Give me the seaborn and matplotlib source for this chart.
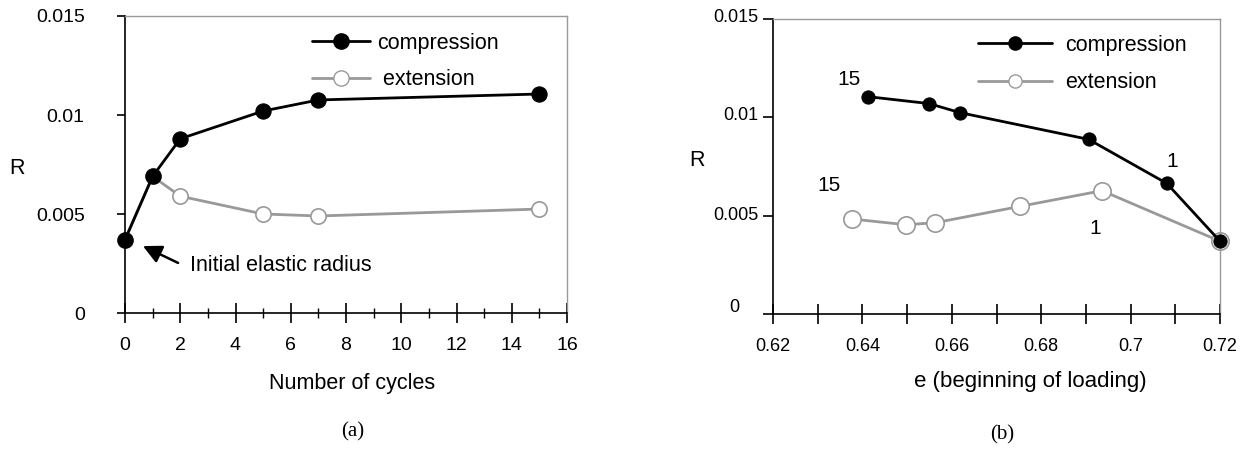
import matplotlib
matplotlib.use("Agg")
import matplotlib.pyplot as plt
import matplotlib.transforms as mtransforms
import seaborn as sns
import pandas as pd
from matplotlib.ticker import MultipleLocator, FixedLocator
from matplotlib.lines import Line2D

sns.set_style("white")
plt.rcParams['font.family'] = ['Liberation Sans', 'DejaVu Sans']
plt.rcParams.update({"text.color": "black", "axes.labelcolor": "black",
                     "xtick.color": "black", "ytick.color": "black"})

# Panel (a)
cycles = [0, 1, 2, 5, 7, 15]
comp_a = [0.0037, 0.0069, 0.0088, 0.0102, 0.01076, 0.01106]
ext_a = [0.0037, 0.0069, 0.0059, 0.0050, 0.0049, 0.00525]

# Panel (b)
e_comp = [0.6413, 0.6549, 0.6618, 0.6906, 0.7081, 0.720]
comp_b = [0.01105, 0.0107, 0.01024, 0.00888, 0.00664, 0.0037]
e_ext = [0.6377, 0.6497, 0.6563, 0.6752, 0.6936, 0.720]
ext_b = [0.00483, 0.00454, 0.00464, 0.00547, 0.00627, 0.0037]

yticks = [0, 0.005, 0.01, 0.015]
ytick_labels = ["0", "0.005", "0.01", "0.015"]

BLACK = "black"
GRAY = "#999999"

W, H = 1253, 450
fig = plt.figure(figsize=(12.53, 4.5), dpi=100)
axA = fig.add_axes([125/W, 1-313/H, (567-125)/W, (313-16)/H])
axB = fig.add_axes([773/W, 1-314/H, (1220-773)/W, (314-19)/H])


def draw(ax, xc, yc, xe, ye, ms_c, ms_e, ms_leg, fs_leg, leg_kw, ext_label):
    dfc = pd.DataFrame({"x": xc, "y": yc})
    dfe = pd.DataFrame({"x": xe, "y": ye})
    sns.lineplot(data=dfe, x="x", y="y", ax=ax, sort=False, color=GRAY, lw=2,
                 marker="o", markersize=ms_e, markerfacecolor="white",
                 markeredgecolor=GRAY, markeredgewidth=1.2, zorder=2)
    sns.lineplot(data=dfc, x="x", y="y", ax=ax, sort=False, color=BLACK, lw=2,
                 marker="o", markersize=ms_c, markerfacecolor=BLACK,
                 markeredgecolor=BLACK, zorder=3)
    for ln in ax.lines:
        ln.set_clip_on(False)
    for s in ["top", "right"]:
        ax.spines[s].set_color(GRAY)
        ax.spines[s].set_linewidth(1.0)
    for s in ["left", "bottom"]:
        ax.spines[s].set_color(BLACK)
        ax.spines[s].set_linewidth(1.2)
    ax.set_ylim(0, 0.015)
    ax.yaxis.set_major_locator(FixedLocator(yticks))
    ax.set_yticklabels(ytick_labels)
    ax.set_xlabel("")
    ax.set_ylabel("")
    ax.set_facecolor("white")
    handles = [
        Line2D([], [], color=BLACK, lw=2, marker="o", markersize=ms_leg[0],
               markerfacecolor=BLACK),
        Line2D([], [], color=GRAY, lw=2, marker="o", markersize=ms_leg[1],
               markerfacecolor="white", markeredgecolor=GRAY),
    ]
    ax.legend(handles, ["compression", ext_label], loc="upper left",
              frameon=False, fontsize=fs_leg, borderpad=0, borderaxespad=0,
              **leg_kw)


# ---------------- panel (a)
draw(axA, cycles, comp_a, cycles, ext_a, 11, 11, (11, 11), 15.5,
     dict(handlelength=2.7, handletextpad=0.33, labelspacing=0.7,
          bbox_to_anchor=((312-125)/442, (313-33)/297)), " extension")
axA.set_xlim(0, 16)
axA.xaxis.set_major_locator(MultipleLocator(2))
axA.xaxis.set_minor_locator(MultipleLocator(1))
axA.tick_params(axis="y", left=True, direction="out", length=6, width=1.2,
                labelsize=14, pad=23)
axA.tick_params(axis="x", which="major", bottom=True, direction="inout", length=14,
                width=1.2, labelsize=14, pad=10)
axA.tick_params(axis="x", which="minor", bottom=True, direction="inout", length=7,
                width=1.0)
axA.annotate("", xy=(0.65, 0.00338), xytext=(1.92, 0.00253),
             arrowprops=dict(arrowstyle="-|>", color=BLACK, lw=1.8,
                             mutation_scale=28, shrinkA=0, shrinkB=0))
axA.text(2.35, 0.0024, "Initial elastic radius", fontsize=15.5, va="center", ha="left")
fig.text(352/W, 1-383/H, "Number of cycles", ha="center", va="center", fontsize=15.5)
fig.text(17/W, 1-168/H, "R", ha="center", va="center", fontsize=15.5)
fig.text(353/W, 1-432/H, "(a)", ha="center", va="center", fontsize=15,
         family="Liberation Serif")

# ---------------- panel (b)
draw(axB, e_comp, comp_b, e_ext, ext_b, 9.5, 12.5, (9.5, 9.5), 15.5,
     dict(handlelength=3.44, handletextpad=0.6, labelspacing=0.75,
          bbox_to_anchor=((978-773)/447, (314-35)/295)), "extension")
axB.set_xlim(0.62, 0.72)
axB.xaxis.set_major_locator(FixedLocator([0.62, 0.64, 0.66, 0.68, 0.70, 0.72]))
axB.set_xticklabels(["0.62", "0.64", "0.66", "0.68", "0.7", "0.72"])
axB.xaxis.set_minor_locator(FixedLocator([0.63, 0.65, 0.67, 0.69, 0.71]))
axB.tick_params(axis="y", left=True, direction="out", length=7, width=1.2,
                labelsize=13, pad=3.5)
axB.tick_params(axis="x", which="both", bottom=True, direction="inout", length=15,
                width=1.2, labelsize=13, pad=10)
# small offsets of y tick labels as in the reference (pixels)
offsets = {0: (-19, 9), 1: (0, 2), 2: (0, 4), 3: (0, 3)}
for i, lab in enumerate(axB.get_yticklabels()):
    dx, dy = offsets[i]
    lab.set_transform(lab.get_transform() +
                      mtransforms.ScaledTranslation(dx/100, dy/100, fig.dpi_scale_trans))
for s, xy in [("15", (0.6371, 0.0119)), ("15", (0.6326, 0.00654)),
              ("1", (0.7094, 0.00776)), ("1", (0.692, 0.00437))]:
    axB.text(xy[0], xy[1], s, ha="center", va="center", fontsize=15)
fig.text(1030/W, 1-382/H, "e (beginning of loading)", ha="center", va="center", fontsize=16)
fig.text(697/W, 1-160/H, "R", ha="center", va="center", fontsize=15.5)
fig.text(1002/W, 1-435/H, "(b)", ha="center", va="center", fontsize=15,
         family="Liberation Serif")

fig.savefig("out.png", dpi=100, facecolor="white")
